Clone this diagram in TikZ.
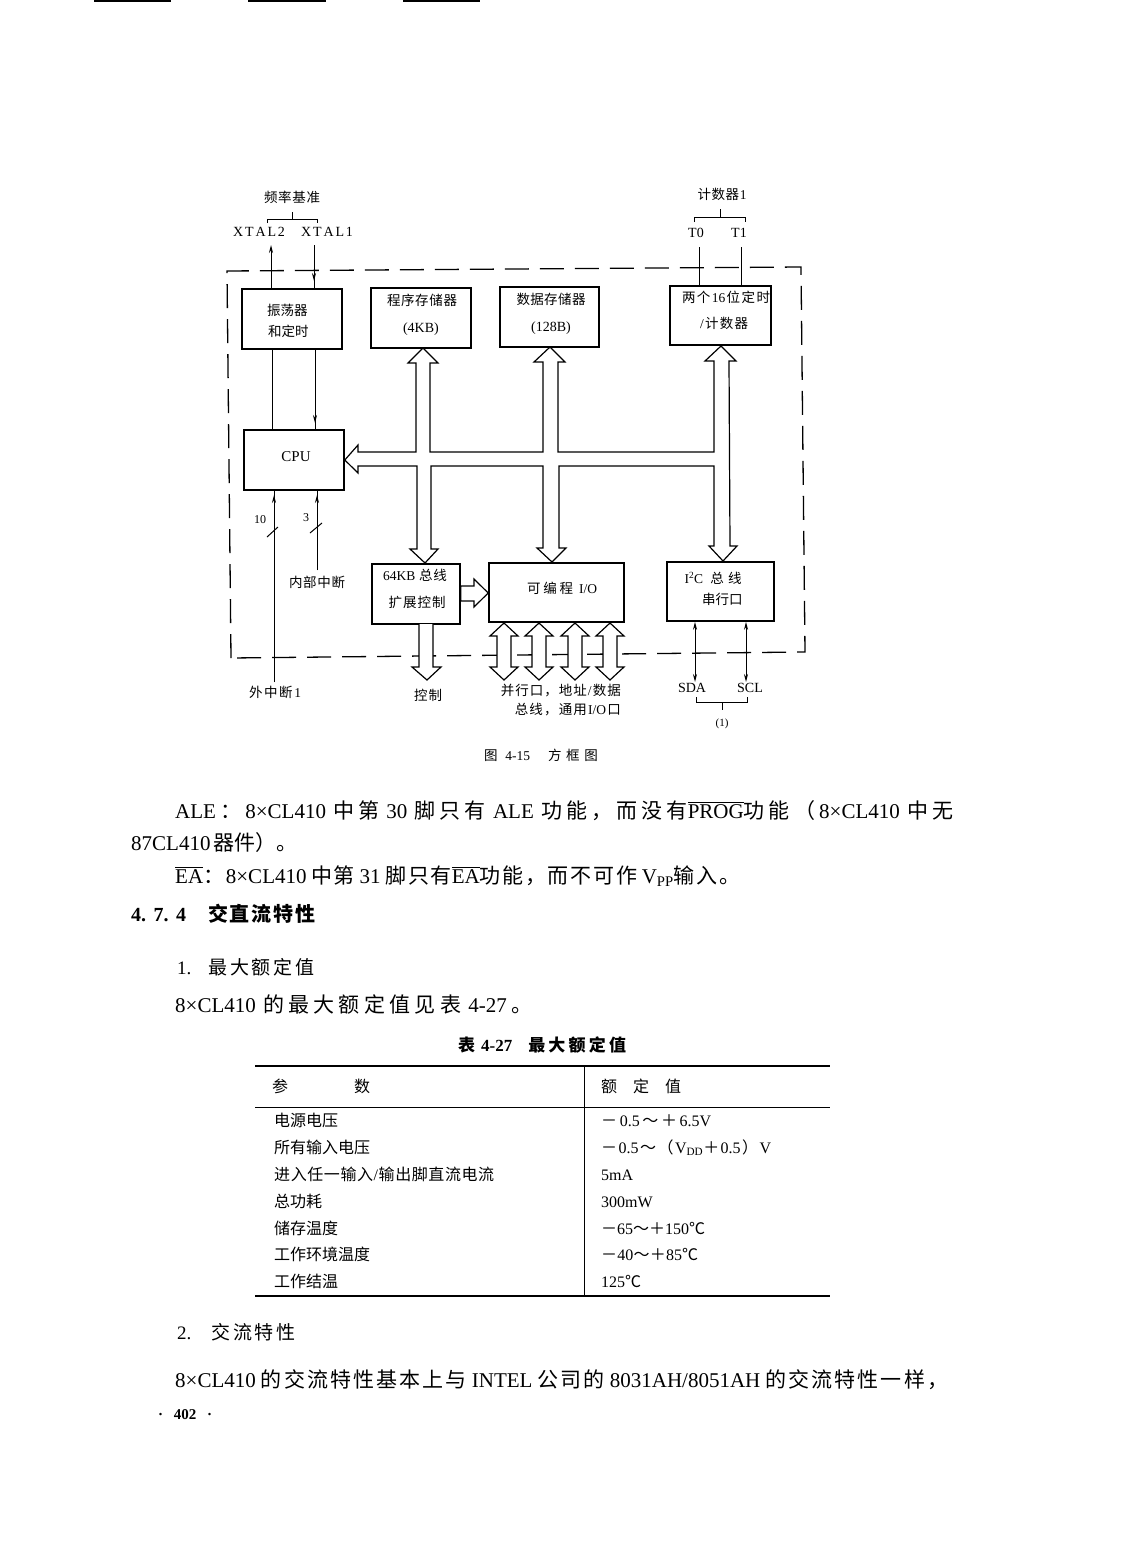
\documentclass[tikz,border=0pt]{standalone}
\usepackage{fontspec}
\usetikzlibrary{arrows.meta}
\setmainfont{Liberation Serif}
\newfontfamily\cjk{Noto Sans CJK SC}
% automatic font switching between Latin and CJK
\newcount\mycc
\newcommand\setclassrange[2]{\mycc=#1 \loop\XeTeXcharclass\mycc=1 \advance\mycc by 1 \ifnum\mycc<#2 \repeat}
\setclassrange{"4E00}{"A000}
\setclassrange{"3000}{"3040}
\setclassrange{"FF00}{"FFF0}
\XeTeXcharclass"2103=1
\XeTeXinterchartokenstate=1
\newcommand\sg{\hskip 0pt plus 1pt\relax}
\newcommand\spc{\hskip 3pt plus 1pt\relax}
\XeTeXinterchartoks 0 1={\cjk\sg}
\XeTeXinterchartoks 1 0={\rmfamily\sg}
\XeTeXinterchartoks 1 1={\sg}
\XeTeXinterchartoks 4095 1={\cjk}
\XeTeXinterchartoks 4095 0={\rmfamily}
\newcommand\fitw[2]{\makebox[#1pt][s]{#2}}
\newcommand\ovl[1]{\leavevmode\vbox{\hrule height .9pt \kern .8pt\hbox{#1}}}
\newcommand\fsz[1]{\fontsize{#1}{#1}\selectfont}
\tikzset{
  x=1pt,y=-1pt,
  box/.style={draw,line width=1.6pt,fill=white,inner sep=0pt},
  wire/.style={line width=1pt},
  bus/.style={draw,line width=1.2pt,fill=white,line join=miter},
  frameline/.style={line width=1.3pt,dash pattern=on 24pt off 11pt},
  tick/.style={line width=1pt},
  lbl/.style={inner sep=0pt,font=\fsz{13.5},text height=11.5pt,text depth=2pt},
  lat/.style={inner sep=0pt,font=\fsz{14},text height=11.5pt,text depth=2pt},
  bodyt/.style={inner sep=0pt,anchor=base west,font=\fsz{21}},
  cell/.style={inner sep=0pt,anchor=base west,font=\fsz{16}},
  rule1/.style={line width=1.5pt},
  rule2/.style={line width=.9pt},
}
\begin{document}
\begin{tikzpicture}
\useasboundingbox (0,0) rectangle (1122,1568);
\fill[white] (0,0) rectangle (1122,1568);

% scan fragments at the top edge
\fill (94,0) rectangle (171,2);
\fill (248,0) rectangle (326,2);
\fill (403,0) rectangle (480,2);

% dashed chip outline
\draw[frameline] (231,658) -- (227,271) -- (801,267) -- (805,652) -- cycle;

% boxes
\node[box,minimum width=100pt,minimum height=60pt] (osc) at (292,319) {};
\node[box,minimum width=100pt,minimum height=60pt] (prog) at (421,318) {};
\node[box,minimum width=99pt,minimum height=60pt] (data) at (549.5,317) {};
\node[box,minimum width=101pt,minimum height=59pt] (timer) at (720.5,315.5) {};
\node[box,minimum width=100pt,minimum height=60pt] (cpu) at (294,460) {};
\node[box,minimum width=88pt,minimum height=60pt] (ext) at (416,594) {};
\node[box,minimum width=135pt,minimum height=59pt] (pio) at (556.5,592.5) {};
\node[box,minimum width=107pt,minimum height=59pt] (i2c) at (720.5,591.5) {};

% internal bus
\path[bus] (cpu.east) -- (358,445) -- (358,452) -- (416,452) -- (416,363) -- (408,363)
  -- (423,348) -- (438,363) -- (430,363) -- (430,452) -- (543,452) -- (543,362) -- (534,362)
  -- (550,347) -- (565,362) -- (558,362) -- (558,452) -- (714,452) -- (714,361) -- (705,361)
  -- (721,346) -- (736,361) -- (729,361) -- (730,546) -- (737,546) -- (723,561) -- (709,546)
  -- (714,546) -- (714,466) -- (559,466) -- (559,548) -- (566,548) -- (552,562) -- (537,548)
  -- (543,548) -- (543,466) -- (431,466) -- (431,549) -- (438,549) -- (425,563) -- (410,549)
  -- (417,549) -- (417,466) -- (358,466) -- (358,473) -- cycle;

% hollow arrows
\path[bus] (ext.east |- 0,586) -- (474,586) -- (474,579) -- (pio.west |- 0,593) -- (474,607) -- (474,601) -- (ext.east |- 0,601) -- cycle;
\path[bus] (419,624) -- (419,667) -- (412,667) -- (427,680) -- (441,667) -- (433,667) -- (433,624);
\foreach \cx in {504,539,575,610}{
  \path[bus] (\cx,623) -- (\cx+14,636) -- (\cx+7,636) -- (\cx+7,667) -- (\cx+14,667) -- (\cx,680)
     -- (\cx-14,667) -- (\cx-7,667) -- (\cx-7,636) -- (\cx-14,636) -- cycle;
}

% named free ends
\coordinate (xt2) at (271,245);
\coordinate (xt1) at (314,245);
\coordinate (t0) at (699,247);
\coordinate (t1) at (741,247);
\coordinate (extint) at (274,682);
\coordinate (intint) at (317,570);
\coordinate (sda) at (695,682);
\coordinate (scl) at (746,682);

% single wires
\draw[wire,-{Stealth[length=8pt,width=4pt]}] (osc.north -| xt2) -- (xt2);
\draw[wire] (xt1) -- (osc.north -| xt1);
\draw[wire,-{Stealth[length=8pt,width=4pt]}] (xt1) -- (314,281);
\draw[wire] (t0) -- (timer.north -| t0);
\draw[wire] (t1) -- (timer.north -| t1);
\draw[wire] (osc.south -| 272,0) -- (cpu.north -| 272,0);
\draw[wire] (osc.south -| 315,0) -- (cpu.north -| 315,0);
\draw[wire,-{Stealth[length=8pt,width=4pt]}] (osc.south -| 315,0) -- (315,423);
\draw[wire] (extint) -- (cpu.south -| extint);
\draw[wire,-{Stealth[length=8pt,width=4pt]}] (extint) -- (274,495);
\draw[wire] (intint) -- (cpu.south -| intint);
\draw[wire,-{Stealth[length=8pt,width=4pt]}] (intint) -- (317,495);
\draw[tick] (267,537) -- (278,527);
\draw[tick] (310,533) -- (322,523);
\draw[wire,{Stealth[length=8pt,width=4pt]}-{Stealth[length=8pt,width=4pt]}] (sda) -- (i2c.south -| sda);
\draw[wire,{Stealth[length=8pt,width=4pt]}-{Stealth[length=8pt,width=4pt]}] (scl) -- (i2c.south -| scl);

% brackets
\draw[tick] (267,223) -- (267,219) -- (317,219) -- (317,223);
\draw[tick] (292,219) -- (292,212);
\draw[tick] (694,222) -- (694,217) -- (745,217) -- (745,222);
\draw[tick] (720,217) -- (720,209);
\draw[tick] (696,697) -- (696,702) -- (747,702) -- (747,697);
\draw[tick] (722,702) -- (722,710);

% diagram labels
\node[lbl] (l1) at (292,198) {\fitw{56}{频率基准}};
\node[lat] (l2) at (259,232) {\fitw{52}{X\hfil T\hfil A\hfil L\hfil 2}};
\node[lat] (l3) at (327,232) {\fitw{52}{X\hfil T\hfil A\hfil L\hfil 1}};
\node[lbl] (l4) at (722,195) {\fitw{49}{计数器1}};
\node[lat] (l5) at (696,233) {T0};
\node[lat] (l6) at (739,233) {T1};
\node[lbl] (o1) at (287,311) {\fitw{40}{振荡器}};
\node[lbl] (o2) at (288,332) {\fitw{40}{和定时}};
\node[lbl] (p1) at (422,301) {\fitw{70}{程序存储器}};
\node[lat] (p2) at (423,328) {\fitw{40}{(4KB)}};
\node[lbl] (d1) at (551,300) {\fitw{69}{数据存储器}};
\node[lat] (d2) at (551,327) {(128B)};
\node[lbl] (t2) at (726,298) {\fitw{88}{两个16位定时}};
\node[lbl] (t3) at (724,324) {\fitw{48}{/计数器}};
\node[lat,font=\fsz{15}] (c1) at (296,457) {CPU};
\node[lbl] (e1) at (415,576) {\fitw{64}{64KB\spc 总线}};
\node[lbl] (e2) at (417,603) {\fitw{57}{扩展控制}};
\node[lbl] (i1) at (562,589) {\fitw{70}{可编程\spc I/O}};
\node[lbl] (s1) at (713,579) {\fitw{57}{I\textsuperscript{2}C\spc 总线}};
\node[lbl] (s2) at (722,600) {\fitw{40}{串行口}};
\node[lat,font=\fsz{12}] (n10) at (260,519) {10};
\node[lat,font=\fsz{12}] (n3) at (306,517) {3};
\node[lbl] (l7) at (317,583) {\fitw{56}{内部中断}};
\node[lbl] (l8) at (275,693) {\fitw{52}{外中断1}};
\node[lbl] (l9) at (428,696) {\fitw{28}{控制}};
\node[lbl,anchor=east] (l10) at (621,691) {\fitw{120}{并行口，地址/数据}};
\node[lbl,anchor=east] (l11) at (621,710) {\fitw{106}{总线，通用I/O口}};
\node[lat] (l12) at (692,688) {SDA};
\node[lat] (l13) at (750,688) {SCL};
\node[lat,font=\fsz{11}] (l14) at (722,722) {(1)};
\node[lbl] (cap) at (541,756) {\fitw{114}{图\spc 4-15\hspace{18pt}方框图}};

% body text
\node[bodyt] (b1) at (175,818) {\fitw{778}{ALE：8×CL410\spc 中第\spc 30\spc 脚只有\spc ALE\spc 功能，而没有\ovl{PROG}功能（8×CL410\spc 中无}};
\node[bodyt] (b2) at (131,850) {\fitw{143}{87CL410\spc 器件）。}};
\node[bodyt] (b3) at (175,883) {\fitw{565}{\ovl{EA}：8×CL410\spc 中第\spc 31\spc 脚只有\ovl{EA}功能，而不可作\spc V\textsubscript{PP}输入。}};
\node[bodyt,font=\fsz{20}\bfseries] (h1) at (131,921) {\makebox[55pt][s]{4.\hfil 7.\hfil 4}\hspace{22pt}\fitw{107}{交直流特性}};
\node[bodyt,font=\fsz{19}] (h2) at (177,974) {\fitw{137}{1.\hspace{17pt}最大额定值}};
\node[bodyt] (b4) at (175,1012) {\fitw{357}{8×CL410\spc 的最大额定值见表\spc 4-27。}};

% table
\node[inner sep=0pt,font=\fsz{17}\bfseries,text height=12pt,text depth=3pt] (tt) at (542,1047) {\fitw{168}{表\spc 4-27\hspace{16pt}最大额定值}};
\coordinate (tl) at (255,1066);
\coordinate (tr) at (830,1066);
\coordinate (bl) at (255,1296);
\coordinate (br) at (830,1296);
\draw[rule1] (tl) -- (tr);
\draw[rule1] (bl) -- (br);
\draw[rule2] (255,1107) -- (830,1107);
\draw[rule2] (584,1066) -- (584,1296);
\node[cell] at (272,1092) {\fitw{98}{参\hfil 数}};
\node[cell] at (601,1092) {\fitw{80}{额\hfil 定\hfil 值}};
\node[cell] at (274,1126) {电源电压};
\node[cell] at (274,1153) {所有输入电压};
\node[cell] at (274,1180) {\fitw{220}{进入任一输入/输出脚直流电流}};
\node[cell] at (274,1207) {总功耗};
\node[cell] at (274,1234) {储存温度};
\node[cell] at (274,1260) {工作环境温度};
\node[cell] at (274,1287) {工作结温};
\node[cell] at (601,1126) {\fitw{110}{－0.5～＋6.5V}};
\node[cell] at (601,1153) {\fitw{170}{－0.5～（V\textsubscript{DD}＋0.5）V}};
\node[cell] at (601,1180) {\fitw{32}{5mA}};
\node[cell] at (601,1207) {\fitw{52}{300mW}};
\node[cell] at (601,1234) {\fitw{103}{－65～＋150℃}};
\node[cell] at (601,1260) {\fitw{97}{－40～＋85℃}};
\node[cell] at (601,1287) {\fitw{39}{125℃}};

\node[bodyt,font=\fsz{19}] (h3) at (177,1339) {\fitw{118}{2.\hspace{20pt}交流特性}};
\node[bodyt] (b5) at (175,1387) {\fitw{773}{8×CL410\spc 的交流特性基本上与\spc INTEL\spc 公司的\spc 8031AH/8051AH\spc 的交流特性一样，}};
\node[bodyt,font=\fsz{15}\bfseries] (pg) at (158,1419) {\fitw{54}{·\hfil 402\hfil ·}};
\end{tikzpicture}
\end{document}
